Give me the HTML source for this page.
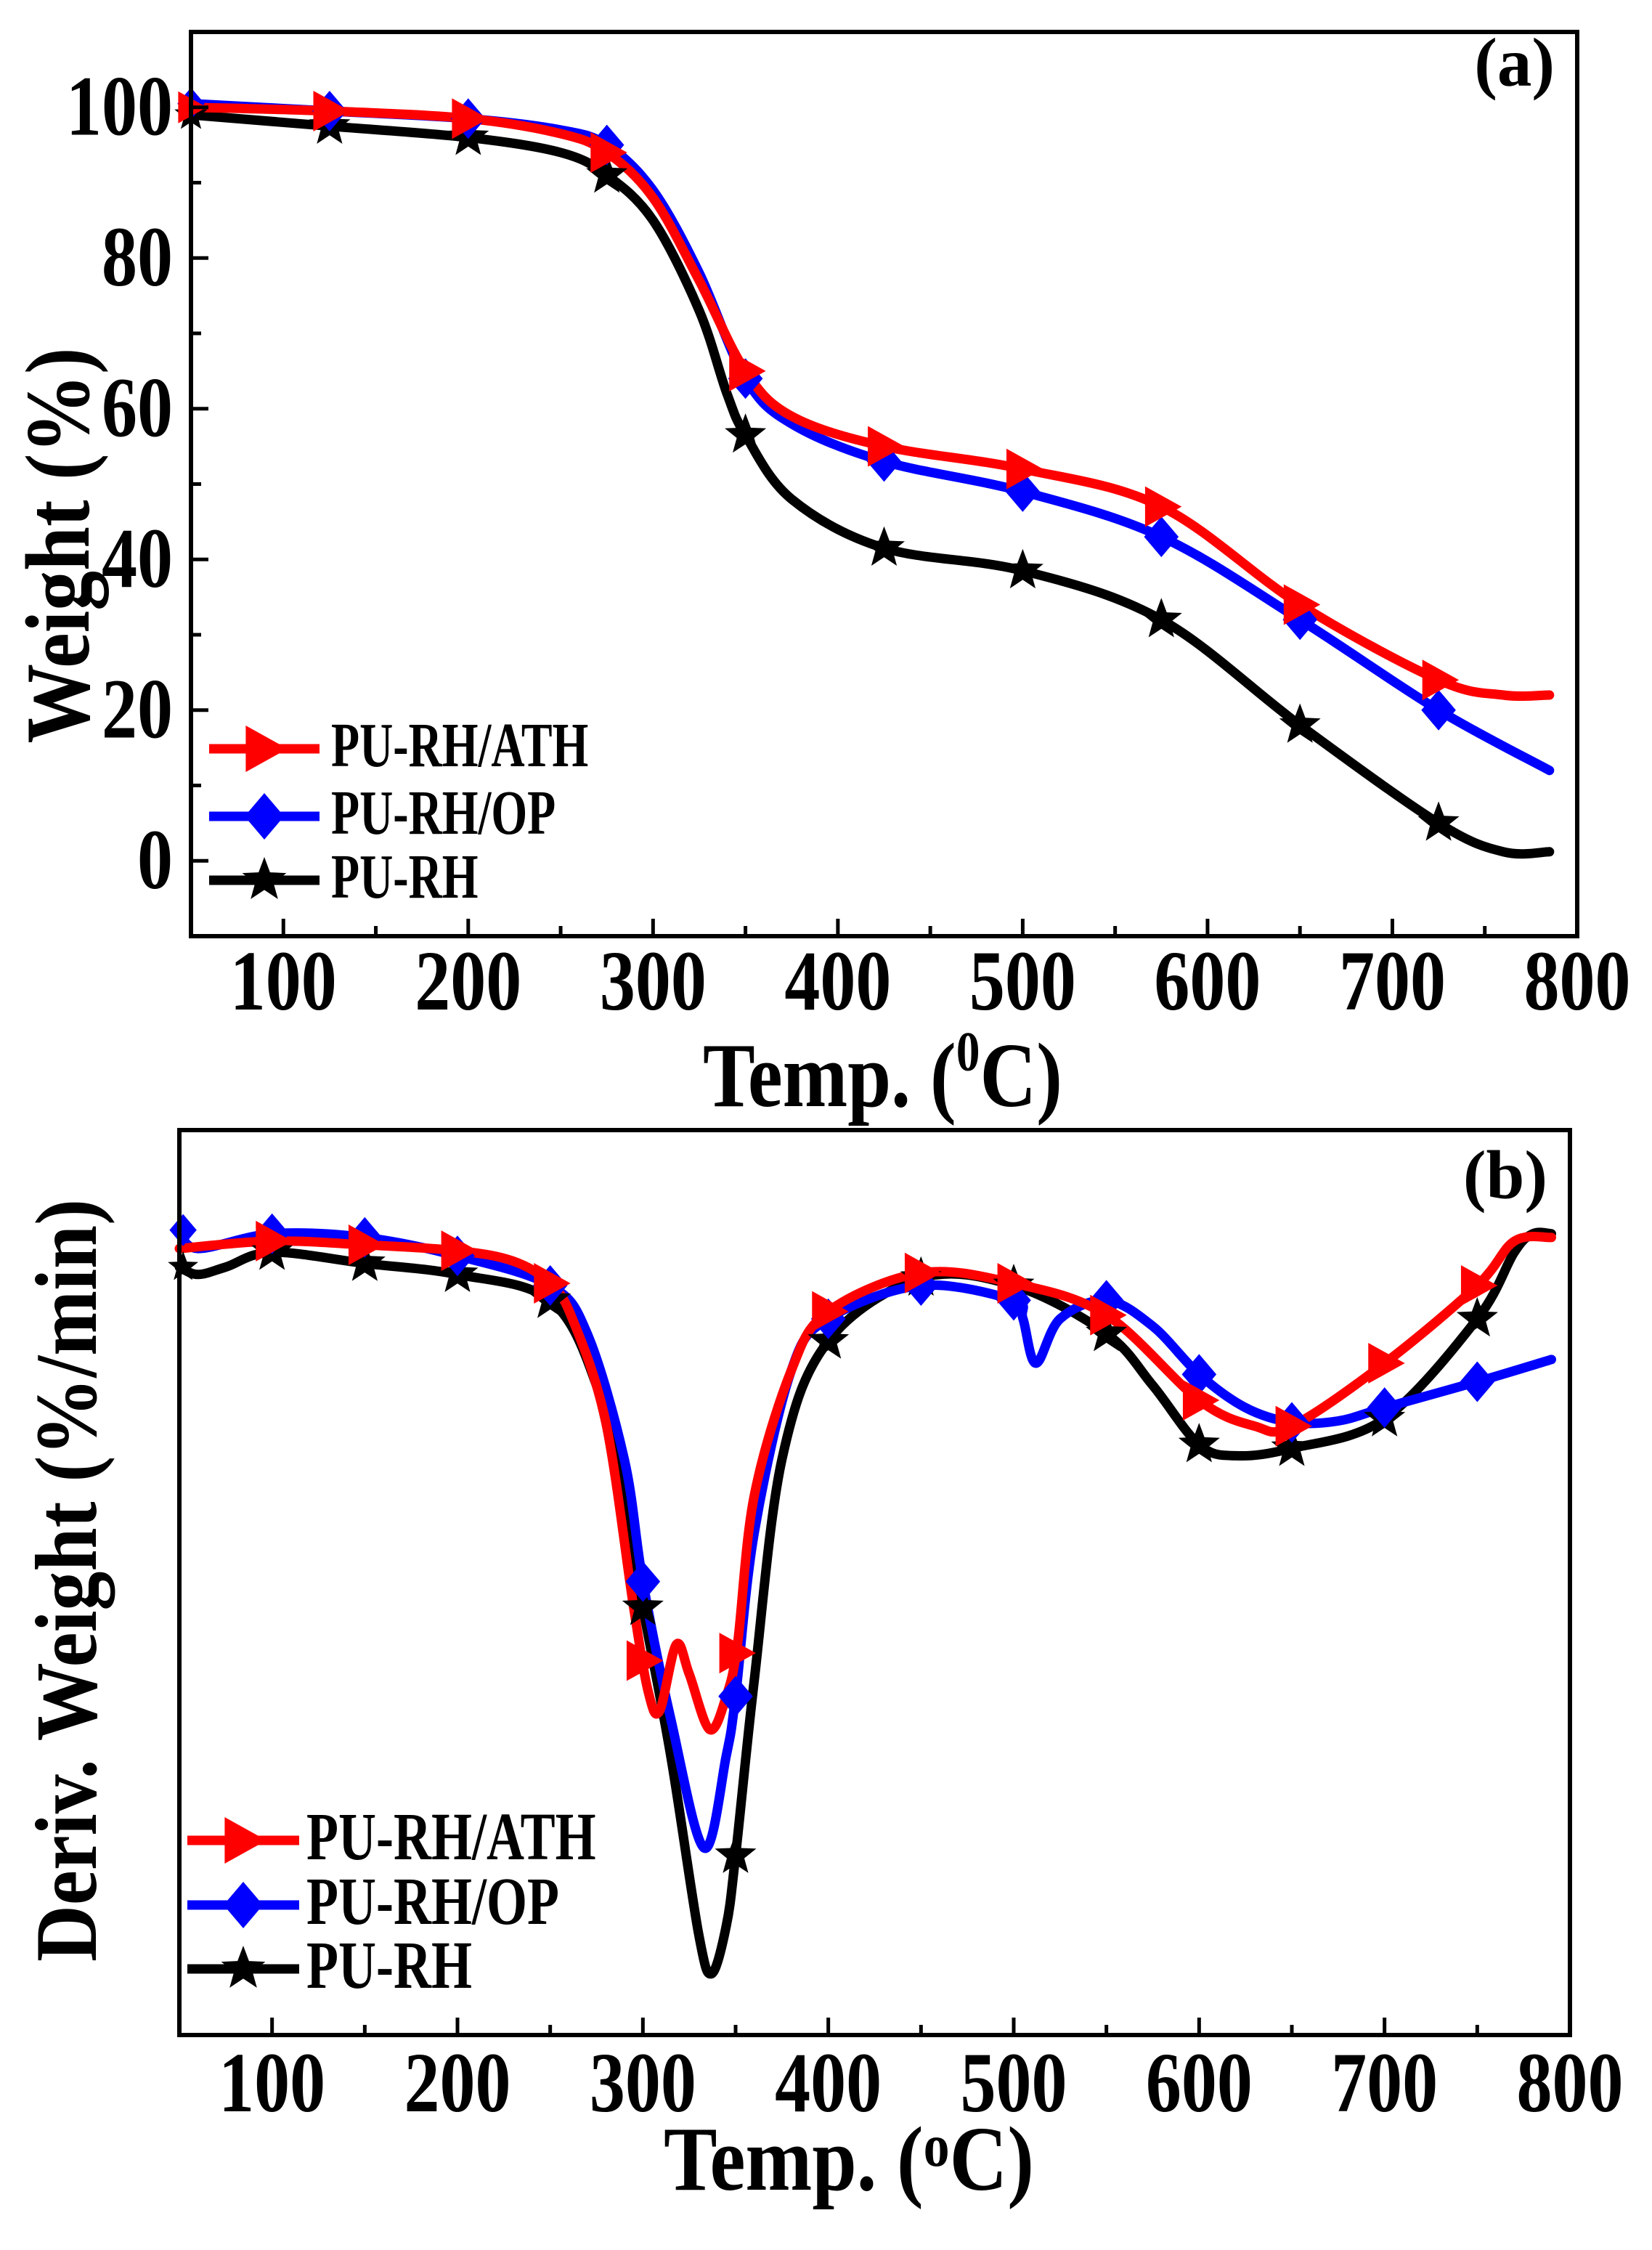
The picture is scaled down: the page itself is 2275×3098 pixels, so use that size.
<!DOCTYPE html>
<html><head><meta charset="utf-8"><style>
html,body{margin:0;padding:0;background:#fff;}
svg{display:block;}
text{font-family:"Liberation Serif",serif;font-weight:bold;fill:#000;}
</style></head><body>
<svg id="s" width="2275" height="3098" viewBox="0 0 2275 3098" xmlns="http://www.w3.org/2000/svg"></svg>
<script>
const S=document.getElementById('s');let h='';
function path(pts,col,w){let d='M'+pts[0][0].toFixed(1)+','+pts[0][1].toFixed(1);
for(let i=0;i<pts.length-1;i++){const p0=pts[i-1]||pts[i],p1=pts[i],p2=pts[i+1],p3=pts[i+2]||p2;
const c1=[p1[0]+(p2[0]-p0[0])/6,p1[1]+(p2[1]-p0[1])/6],c2=[p2[0]-(p3[0]-p1[0])/6,p2[1]-(p3[1]-p1[1])/6];
d+=`C${c1[0].toFixed(1)},${c1[1].toFixed(1)} ${c2[0].toFixed(1)},${c2[1].toFixed(1)} ${p2[0].toFixed(1)},${p2[1].toFixed(1)}`;}
h+=`<path d="${d}" fill="none" stroke="${col}" stroke-width="${w}" stroke-linejoin="round" stroke-linecap="round"/>`;}
function marker(t,x,y,col,r){
 if(t=='tri')h+=`<polygon points="${x-r*0.8},${y-r} ${x+r},${y} ${x-r*0.8},${y+r}" fill="${col}"/>`;
 else if(t=='dia')h+=`<polygon points="${x},${y-r} ${x+r*0.85},${y} ${x},${y+r} ${x-r*0.85},${y}" fill="${col}"/>`;
 else{let p=[];for(let i=0;i<10;i++){const a=-Math.PI/2+i*Math.PI/5,rr=i%2?r*0.42:r;p.push((x+rr*Math.cos(a)).toFixed(1)+','+(y+rr*Math.sin(a)).toFixed(1));}
 h+=`<polygon points="${p.join(' ')}" fill="${col}"/>`;}}
function interp(d,x){for(let i=0;i<d.length-1;i++){if(x>=d[i][0]&&x<=d[i+1][0]){const f=(x-d[i][0])/(d[i+1][0]-d[i][0]);return d[i][1]+f*(d[i+1][1]-d[i][1]);}}return d[d.length-1][1];}
function st(x,y,fs,anchor,s,sy){return `<text x="${x}" y="${y}" font-size="${fs}" text-anchor="${anchor}" transform="translate(0,${y}) scale(1,${sy}) translate(0,${-y})">${s}</text>`;}

// ===== Panel A =====
const AL=263,AR=2172,AT=44,AB=1289;
const ax=t=>AL+(t-50)*(AR-AL)/750, ay=v=>AB-(v+10)*(AB-AT)/120;
const red=[[50,100],[125,99.5],[200,98.5],[250,96.5],[275,94],[300,88],[325,77],[350,65],[375,59],[425,55],[500,52],[575,47],[650,34],[725,24],[760,22],[785,22]];
const blue=[[50,100.5],[125,99.5],[200,98.5],[250,97],[275,95],[300,89],[325,78],[350,64],[375,58],[425,53],[500,49],[575,43],[650,32],[725,20],[785,12]];
const blk=[[50,99],[125,97.5],[200,96],[250,94],[275,91],[300,85],[325,73],[340,62],[350,56.5],[375,48],[425,41.5],[500,38.5],[575,32],[650,18],[725,5],[760,1.2],[785,1.2]];
const Sr=[['#000',blk,'star'],['#0000ff',blue,'dia'],['#ff0000',red,'tri']];
for(const [c,d] of Sr)path(d.map(p=>[ax(p[0]),ay(p[1])]),c,13);
const mA=[125,200,275,350,425,500,575,650,725];
for(const [c,d,t] of Sr){for(const m of mA)marker(t,ax(m),ay(interp(d,m)),c,t=='star'?30:28);marker(t,ax(50),ay(d[0][1]),c,t=='star'?24:22);}
h+=`<rect x="${AL}" y="${AT}" width="${AR-AL}" height="${AB-AT}" fill="none" stroke="#000" stroke-width="6"/>`;
for(let t=100;t<=750;t+=50){const x=ax(t),L=t%100?14:24;h+=`<line x1="${x}" y1="${AB}" x2="${x}" y2="${AB-L}" stroke="#000" stroke-width="5"/>`;}
for(let v=0;v<=100;v+=10){const y=ay(v),L=v%20?14:24;h+=`<line x1="${AL}" y1="${y}" x2="${AL+L}" y2="${y}" stroke="#000" stroke-width="5"/>`;}
for(let t=100;t<=800;t+=100)h+=st(ax(t),1390,98,'middle',t,1.2);
for(let v=0;v<=100;v+=20)h+=st(238,ay(v)+38,98,'end',v,1.2);
h+=`<text x="968" y="1523" font-size="115" textLength="495" lengthAdjust="spacingAndGlyphs" transform="translate(0,1523) scale(1,1.1) translate(0,-1523)">Temp. (<tspan font-size="70" dy="-45">0</tspan><tspan dy="45">C)</tspan></text>`;
h+=`<text transform="translate(122,751) rotate(-90) scale(1,1.1)" font-size="115" text-anchor="middle" textLength="545" lengthAdjust="spacingAndGlyphs">Weight (%)</text>`;
h+=`<text x="2141" y="118" font-size="95" text-anchor="end">(a)</text>`;
const legA=[[1031,'#ff0000','tri','PU-RH/ATH'],[1124,'#0000ff','dia','PU-RH/OP'],[1212,'#000','star','PU-RH']];
for(const [y,c,t,s] of legA){h+=`<line x1="288" y1="${y}" x2="440" y2="${y}" stroke="${c}" stroke-width="13"/>`;marker(t,364,y,c,32);
h+=st(456,y+24,64,'start',s,1.35);}

// ===== Panel B =====
const BL=247,BR=2162,BT=1556,BB=2802;
const bx=t=>BL+(t-50)*(BR-BL)/750, by=z=>1500+z*1.019;
const rB=[[50,215],[100,205],[150,210],[200,218],[230,232],[250,262],[262,310],[280,450],[295,700],[303,815],[309,840],[318,750],[325,790],[336,865],[345,820],[351,750],[360,550],[380,380],[400,300],[450,248],[500,262],[550,305],[600,420],[630,455],[650,455],[700,370],[750,265],[770,205],[790,200]];
const uB=[[50,190],[60,215],[100,195],[150,200],[200,225],[250,265],[270,330],[290,500],[300,665],[315,850],[333,1025],[345,900],[350,820],[360,600],[380,380],[400,310],[450,265],[500,285],[505,310],[512,370],[525,310],[550,285],[575,320],[600,385],[625,430],[650,450],[675,448],[700,430],[750,395],[790,365]];
const kB=[[50,240],[60,250],[75,240],[100,220],[150,235],[200,250],[250,285],[275,400],[290,560],[300,700],[315,900],[330,1140],[337,1195],[345,1130],[350,1035],[360,800],[375,500],[400,340],[450,255],[500,265],[550,330],[575,400],[600,480],[620,495],[650,485],[700,445],[750,310],[770,220],[780,195],[790,195]];
const SB=[['#000',kB,'star'],['#0000ff',uB,'dia'],['#ff0000',rB,'tri']];
for(const [c,d] of SB)path(d.map(p=>[bx(p[0]),by(p[1])]),c,13);
for(const [c,d,t] of SB)for(let m=100;m<=750;m+=50)marker(t,bx(m),by(interp(d,m)),c,t=='star'?30:28);
marker('dia',bx(52),by(190),'#0000ff',22);marker('star',bx(52),by(240),'#000',22);
h+=`<rect x="${BL}" y="${BT}" width="${BR-BL}" height="${BB-BT}" fill="none" stroke="#000" stroke-width="6"/>`;
for(let t=100;t<=750;t+=50){const x=bx(t),L=t%100?14:24;h+=`<line x1="${x}" y1="${BB}" x2="${x}" y2="${BB-L}" stroke="#000" stroke-width="5"/>`;}
for(let t=100;t<=800;t+=100)h+=st(bx(t),2907,98,'middle',t,1.2);
h+=`<text x="914" y="3015" font-size="115" textLength="510" lengthAdjust="spacingAndGlyphs" transform="translate(0,3015) scale(1,1.1) translate(0,-3015)">Temp. (<tspan font-size="75" dy="-30">o</tspan><tspan dy="30">C)</tspan></text>`;
h+=`<text transform="translate(132,2176) rotate(-90) scale(1,1.1)" font-size="110" text-anchor="middle" textLength="1050" lengthAdjust="spacingAndGlyphs">Deriv. Weight (%/min)</text>`;
h+=`<text x="2131" y="1650" font-size="95" text-anchor="end">(b)</text>`;
const legB=[[2534,'#ff0000','tri','PU-RH/ATH'],[2623,'#0000ff','dia','PU-RH/OP'],[2711,'#000','star','PU-RH']];
for(const [y,c,t,s] of legB){h+=`<line x1="258" y1="${y}" x2="412" y2="${y}" stroke="${c}" stroke-width="13"/>`;marker(t,335,y,c,32);
h+=st(422,y+26,72,'start',s,1.3);}
S.innerHTML=h;
</script>
</body></html>
